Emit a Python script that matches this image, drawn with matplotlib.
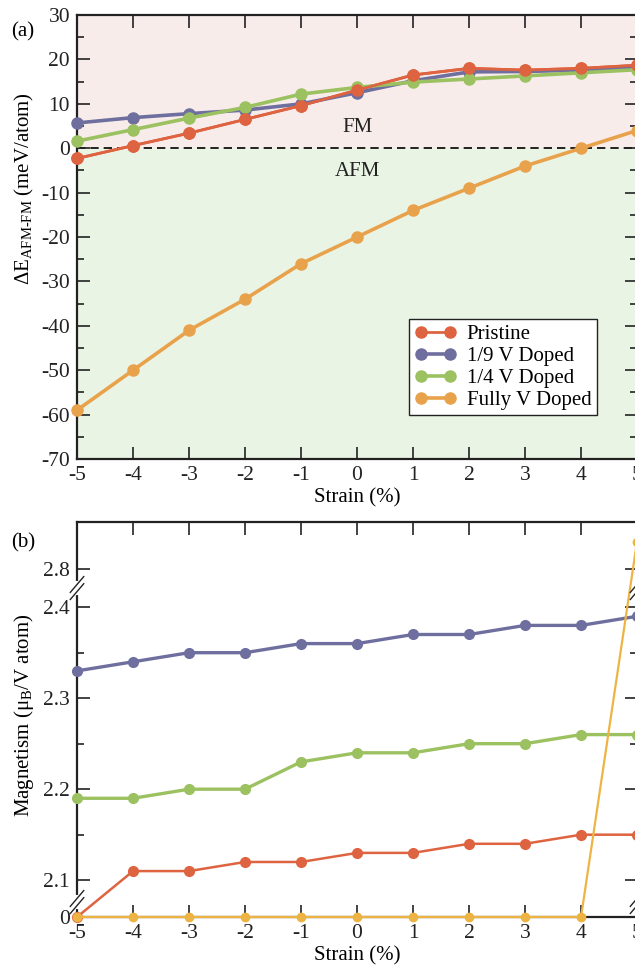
import numpy as np
import matplotlib
matplotlib.use("Agg")
import matplotlib.pyplot as plt
from matplotlib.ticker import MultipleLocator

plt.rcParams['font.family'] = ['Liberation Serif', 'DejaVu Serif']
plt.rcParams['mathtext.fontset'] = 'custom'
plt.rcParams['mathtext.rm'] = 'Liberation Serif'
plt.rcParams['mathtext.it'] = 'Liberation Serif:italic'
plt.rcParams['axes.unicode_minus'] = False
plt.rcParams['font.size'] = 15

strain = [-5, -4, -3, -2, -1, 0, 1, 2, 3, 4, 5]
labels = ["Pristine", "1/9 V Doped", "1/4 V Doped", "Fully V Doped"]

# panel (a): exchange energy, meV/atom
de_pristine = [-2.3, 0.6, 3.4, 6.5, 9.6, 13.1, 16.5, 18.0, 17.6, 18.0, 18.7]
de_19 = [5.7, 6.9, 7.8, 8.6, 10.0, 12.5, 15.2, 17.2, 17.3, 17.6, 18.3]
de_14 = [1.6, 4.2, 6.8, 9.2, 12.2, 13.7, 14.9, 15.6, 16.3, 17.0, 17.7]
de_full = [-59, -50, -41, -34, -26, -20, -14, -9, -4, 0, 4]

# panel (b): magnetism, muB / V atom
m_pristine = [0, 2.11, 2.11, 2.12, 2.12, 2.13, 2.13, 2.14, 2.14, 2.15, 2.15]
m_19 = [2.33, 2.34, 2.35, 2.35, 2.36, 2.36, 2.37, 2.37, 2.38, 2.38, 2.39]
m_14 = [2.19, 2.19, 2.20, 2.20, 2.23, 2.24, 2.24, 2.25, 2.25, 2.26, 2.26]
m_full = [0, 0, 0, 0, 0, 0, 0, 0, 0, 0, 2.83]

cols_a = ["#DE6340", "#6F6F9F", "#9BC161", "#E9A24C"]
cols_b = ["#DE6340", "#6F6F9F", "#9BC161", "#EDB443"]

# broken y axis for panel (b): piecewise linear scale
kx = [-1.0, 0.0, 2.076, 2.421, 2.779, 4.0]
ku = [-7.2, 0.0, 15.0, 328.95, 329.05, 1440.0]


def fwd(y):
    return np.interp(y, kx, ku)


def inv(u):
    return np.interp(u, ku, kx)


fig = plt.figure(figsize=(6.35, 9.66), dpi=100)
axa = fig.add_axes([0.1213, 0.5248, 0.8819, 0.4596])
axb = fig.add_axes([0.1213, 0.0507, 0.8819, 0.4089])

# ---------- (a)
axa.axhspan(0, 30, color="#F8ECEA", zorder=0)
axa.axhspan(-70, 0, color="#EAF4E4", zorder=0)
axa.axhline(0, color="k", lw=1.2, ls=(0, (5, 3)), zorder=1)
for ys, c, lab, lw in zip([de_pristine, de_19, de_14, de_full], cols_a, labels,
                          [2.0, 2.6, 2.6, 2.6]):
    axa.plot(strain, ys, color=c, lw=lw, marker="o", ms=8, label=lab,
             clip_on=False, zorder=3)
# redraw pristine on top like the reference
axa.plot(strain, de_pristine, color=cols_a[0], lw=2.0, marker="o", ms=8,
         clip_on=False, zorder=4)
axa.set_xlim(-5, 5)
axa.set_ylim(-70, 30)
axa.yaxis.set_major_locator(MultipleLocator(10))
axa.yaxis.set_minor_locator(MultipleLocator(5))
axa.xaxis.set_major_locator(MultipleLocator(1))
axa.text(0, 4.6, "FM", ha="center", va="center", fontsize=15, color="#222222")
axa.text(0, -5.3, "AFM", ha="center", va="center", fontsize=15, color="#222222")
axa.set_xlabel("Strain (%)", labelpad=2)
axa.set_ylabel("ΔE$_{\\mathrm{AFM‐FM}}$ (meV/atom)", labelpad=2)
axa.yaxis.set_label_coords(-0.074, 0.61)
leg = axa.legend(loc="upper left", bbox_to_anchor=(0.5935, 0.3153),
                 borderaxespad=0, numpoints=2, handlelength=2.0,
                 handletextpad=0.5, labelspacing=0.12, borderpad=0.25,
                 fancybox=False, framealpha=1, edgecolor="#222222",
                 fontsize=15)
leg.get_frame().set_linewidth(1.0)
fig.text(0.018, 0.967, "(a)", fontsize=15, va="center")

# ---------- (b)
axb.set_yscale("function", functions=(fwd, inv))
for ys, c, lab, lw, ms in zip([m_pristine, m_19, m_14, m_full], cols_b, labels,
                              [1.8, 2.4, 2.4, 1.6], [7, 7, 7, 6]):
    axb.plot(strain, ys, color=c, lw=lw, marker="o", ms=ms, label=lab,
             clip_on=False, zorder=3)
axb.set_xlim(-5, 5)
axb.set_ylim(0, 2.8515)
axb.set_yticks([0, 2.1, 2.2, 2.3, 2.4, 2.8])
axb.set_yticklabels(["0", "2.1", "2.2", "2.3", "2.4", "2.8"])
axb.set_yticks([2.15, 2.25, 2.35], minor=True)
axb.xaxis.set_major_locator(MultipleLocator(1))
axb.set_xlabel("Strain (%)", labelpad=2)
axb.set_ylabel("Magnetism (μ$_{\\mathrm{B}}$/V atom)", labelpad=2)
axb.yaxis.set_label_coords(-0.074, 0.51)
fig.text(0.018, 0.438, "(b)", fontsize=15, va="center")

for ax in (axa, axb):
    ax.tick_params(which="both", direction="in", top=True, right=True,
                   width=1.2, colors="#222222", labelcolor="#222222",
                   labelsize=15.5)
    ax.tick_params(which="major", length=9, pad=5)
    ax.tick_params(which="minor", length=5)
    for sp in ax.spines.values():
        sp.set_linewidth(1.6)
        sp.set_color("#222222")

# break marks on the panel (b) spines
utop = fwd(2.8515)
for yb in (2.076, 2.6):
    fy = fwd(yb) / utop
    for fx in (0.0, 1.0):
        dy = 0.012
        dx = 0.012
        axb.plot([fx, fx], [fy - dy, fy + dy], transform=axb.transAxes,
                 color="white", lw=3, clip_on=False, zorder=5)
        for off in (-0.009, 0.009):
            axb.plot([fx - dx, fx + dx], [fy + off - 0.02, fy + off + 0.02],
                     transform=axb.transAxes, color="#222222", lw=1.0,
                     clip_on=False, zorder=6)

fig.savefig("out.png", dpi=100)
